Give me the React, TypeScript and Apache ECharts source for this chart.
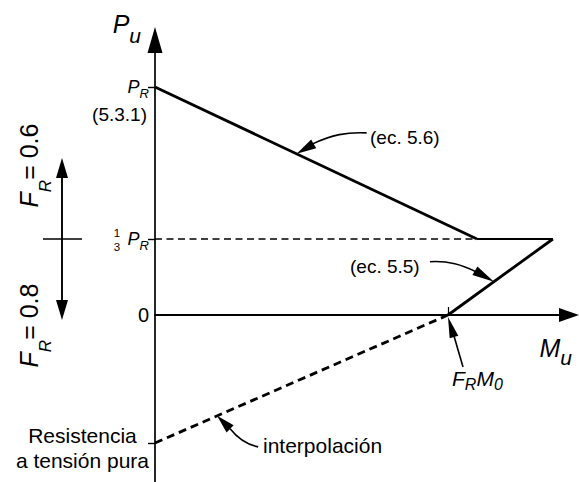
import React, { useEffect, useRef } from 'react';
import * as echarts from 'echarts';

// ---- data (diagram values, in units of FR*M0 for moment and PR/3 for axial load) ----
const P_R = 3;
const P_THIRD = 1;
const P_TENSION = -1.684;
const FR_M0 = 1;
const M_BREAK = 1.099;
const M_BALANCE = 1.358;

const upperBranch = [[0, P_R], [M_BREAK, P_THIRD]];
const capBranch = [[M_BREAK, P_THIRD], [M_BALANCE, P_THIRD]];
const lowerBranch = [[M_BALANCE, P_THIRD], [FR_M0, 0]];
const thirdLine = [[0, P_THIRD], [M_BREAK, P_THIRD]];
const interpolation = [[0, P_TENSION], [FR_M0, 0]];

const yTickValues = [P_TENSION, P_THIRD, P_R];
const yLabelValues = [P_TENSION, 0, P_THIRD, P_R];
const xTickValues = [FR_M0];

const X_MIN = 0;
const X_MAX = 1.413;
const Y_MIN = -2.197;
const Y_MAX = 3.618;

const FONT = '"Liberation Sans", Arial, Helvetica, sans-serif';
const BLACK = '#000';

function near(a: number, b: number) {
  return Math.abs(a - b) < 1e-6;
}

function arrowHead(tip: number[], base: number[], w: number) {
  const dx = tip[0] - base[0];
  const dy = tip[1] - base[1];
  const len = Math.hypot(dx, dy) || 1;
  const nx = -dy / len;
  const ny = dx / len;
  return {
    type: 'polygon',
    z: 100,
    silent: true,
    shape: {
      points: [
        [tip[0], tip[1]],
        [base[0] + (nx * w) / 2, base[1] + (ny * w) / 2],
        [base[0] - (nx * w) / 2, base[1] - (ny * w) / 2],
      ],
    },
    style: { fill: BLACK },
  };
}

function curve(s: number[], c1: number[], c2: number[], e: number[]) {
  return {
    type: 'bezierCurve',
    z: 100,
    silent: true,
    shape: { x1: s[0], y1: s[1], cpx1: c1[0], cpy1: c1[1], cpx2: c2[0], cpy2: c2[1], x2: e[0], y2: e[1] },
    style: { stroke: BLACK, lineWidth: 1.6, fill: 'none' },
  };
}

function seg(x1: number, y1: number, x2: number, y2: number, w: number) {
  return {
    type: 'line',
    z: 100,
    silent: true,
    shape: { x1, y1, x2, y2 },
    style: { stroke: BLACK, lineWidth: w },
  };
}

function txt(text: string, x: number, y: number, size: number, align = 'left', extra: any = {}) {
  return {
    type: 'text',
    z: 100,
    silent: true,
    x,
    y,
    style: {
      text,
      fill: BLACK,
      fontSize: size,
      fontFamily: FONT,
      align,
      verticalAlign: 'middle',
      ...extra,
    },
  };
}

const lineSeries = (data: number[][], width: number, type: any = 'solid') => ({
  type: 'line',
  data,
  showSymbol: false,
  symbol: 'none',
  silent: true,
  lineStyle: { color: BLACK, width, type },
  z: 5,
});

export default function App() {
  const ref = useRef<HTMLDivElement>(null);

  useEffect(() => {
    const el = ref.current as HTMLDivElement;
    const chart = echarts.init(el, null, { renderer: 'svg' });

    const option: any = {
      animation: false,
      backgroundColor: '#fff',
      grid: { left: 155, right: 10, top: 40, bottom: 0, containLabel: false, outerBoundsMode: 'none' },
      xAxis: {
        type: 'value',
        min: X_MIN,
        max: X_MAX,
        name: '{mi|M}{sub|u}',
        nameLocation: 'end',
        nameGap: 3,
        nameTextStyle: {
          align: 'right',
          verticalAlign: 'middle',
          padding: [66, 0, 0, 0],
          rich: {
            mi: { fontFamily: FONT, fontStyle: 'italic', fontSize: 25, color: BLACK },
            sub: { fontFamily: FONT, fontStyle: 'italic', fontSize: 21, color: BLACK, padding: [19, 0, 0, 0] },
          },
        },
        axisLine: {
          show: true,
          onZero: true,
          symbol: ['none', 'triangle'],
          symbolSize: [14, 20],
          lineStyle: { color: BLACK, width: 1.8 },
        },
        axisTick: { show: true, customValues: xTickValues, inside: true, length: 8, lineStyle: { color: BLACK, width: 1.2 } },
        axisLabel: { show: false },
        splitLine: { show: false },
      },
      yAxis: {
        type: 'value',
        min: Y_MIN,
        max: Y_MAX,
        name: '{pi|P}{sub|u}',
        nameLocation: 'end',
        nameGap: 16,
        nameTextStyle: {
          align: 'right',
          verticalAlign: 'middle',
          padding: [0, 14, 0, 0],
          rich: {
            pi: { fontFamily: FONT, fontStyle: 'italic', fontSize: 25, color: BLACK },
            sub: { fontFamily: FONT, fontStyle: 'italic', fontSize: 21, color: BLACK, padding: [22, 0, 0, 0] },
          },
        },
        axisLine: {
          show: true,
          onZero: false,
          symbol: ['none', 'triangle'],
          symbolSize: [15, 26],
          lineStyle: { color: BLACK, width: 1.7 },
        },
        axisTick: { show: true, customValues: yTickValues, length: 7, lineStyle: { color: BLACK, width: 1.4 } },
        axisLabel: {
          show: true,
          customValues: yLabelValues,
          margin: 6,
          color: BLACK,
          fontFamily: FONT,
          formatter: (v: number) => {
            if (near(v, P_R) || near(v, P_THIRD)) return '{pi|P}{sub|R}';
            if (near(v, 0)) return '{zero|0}';
            if (near(v, P_TENSION)) return '{e| }\n{c|Resistencia}\n{c|a tensión pura}';
            return '';
          },
          rich: {
            pi: { fontFamily: FONT, fontStyle: 'italic', fontSize: 18, color: BLACK },
            sub: { fontFamily: FONT, fontStyle: 'italic', fontSize: 13, color: BLACK, padding: [13, 0, 0, 0] },
            zero: { fontFamily: FONT, fontSize: 20, color: BLACK },
            e: { fontFamily: FONT, fontSize: 9, lineHeight: 9 },
            c: { fontFamily: FONT, fontSize: 21, lineHeight: 25, align: 'center', color: BLACK },
          },
        },
        splitLine: { show: false },
      },
      series: [
        lineSeries(upperBranch, 2.8),
        lineSeries(capBranch, 1.9),
        lineSeries(lowerBranch, 2.8),
        lineSeries(thirdLine, 1.5, [7, 4.5]),
        lineSeries(interpolation, 2.8, [8, 5]),
      ],
    };

    chart.setOption(option);

    const px = (m: number, p: number) => chart.convertToPixel({ gridIndex: 0 }, [m, p]) as number[];

    const pR = px(0, P_R);
    const p1 = px(0, P_THIRD);
    const y1 = p1[1];

    // tips of annotation arrows, on the drawn lines
    const tU = 0.44;
    const T1 = px(M_BREAK * tU, P_R + (P_THIRD - P_R) * tU);
    const tL = 0.562;
    const T2 = px(M_BALANCE + (FR_M0 - M_BALANCE) * tL, P_THIRD * (1 - tL));
    const T3o = px(FR_M0, 0);
    const T3 = [T3o[0], T3o[1] + 2];
    const tI = 0.788;
    const T4 = px(FR_M0 * (1 - tI), P_TENSION * tI);

    const add = (a: number[], dx: number, dy: number) => [a[0] + dx, a[1] + dy];

    const subRich = (big: number, small: number, pad: number) => ({
      fi: { fontFamily: FONT, fontStyle: 'italic', fontSize: big, color: BLACK },
      fs: { fontFamily: FONT, fontStyle: 'italic', fontSize: small, color: BLACK, padding: [pad, 0, 0, 0] },
      fn: { fontFamily: FONT, fontSize: big, color: BLACK },
    });

    const graphic: any[] = [
      // (5.3.1) under P_R
      txt('(5.3.1)', 147, pR[1] + 28, 19, 'right'),
      // fraction 1/3 before P_R
      txt('1', 117, y1 - 6, 11.5, 'center'),
      txt('3', 117, y1 + 8, 11.5, 'center'),
      // F_R labels (rotated)
      {
        type: 'text',
        z: 100,
        silent: true,
        x: 29,
        y: y1 - 73.5,
        rotation: Math.PI / 2,
        style: { text: '{fi|F}{fs|R}{fn|= 0.6}', rich: subRich(25, 17, 32), align: 'center', verticalAlign: 'middle' },
      },
      {
        type: 'text',
        z: 100,
        silent: true,
        x: 29,
        y: y1 + 86.5,
        rotation: Math.PI / 2,
        style: { text: '{fi|F}{fs|R}{fn|= 0.8}', rich: subRich(25, 17, 32), align: 'center', verticalAlign: 'middle' },
      },
      // double arrow and cross
      seg(62, y1 - 62, 62, y1 + 62, 1.9),
      arrowHead([62, y1 - 81], [62, y1 - 61], 12),
      arrowHead([62, y1 + 81], [62, y1 + 61], 12),
      seg(43, y1, 82, y1, 1.6),

      // (ec. 5.6)
      txt('(ec. 5.6)', 370, 137, 19),
      curve(add(T1, 70, -21), add(T1, 50, -22), add(T1, 35, -19), add(T1, 16, -10)),
      arrowHead(T1, add(T1, 17, -10), 10),

      // (ec. 5.5)
      txt('(ec. 5.5)', 350, 266, 19),
      curve(add(T2, -64, -20), add(T2, -45, -21), add(T2, -32, -17), add(T2, -18, -10)),
      arrowHead(T2, add(T2, -19, -11), 10),

      // F_R M_0
      {
        type: 'text',
        z: 100,
        silent: true,
        x: 452,
        y: 378,
        style: { text: '{fi|F}{fs|R}{fi|M}{fs|0}', rich: subRich(21, 16, 13), align: 'left', verticalAlign: 'middle' },
      },
      seg(T3[0] + 15, T3[1] + 50, T3[0] + 6, T3[1] + 19, 1.6),
      arrowHead(T3, add(T3, 6, 20), 9),

      // interpolación
      txt('interpolación', 263, 445, 21),
      curve(add(T4, 41, 31), add(T4, 30, 29), add(T4, 21, 23), add(T4, 13, 13)),
      arrowHead(T4, add(T4, 13, 13), 10),
    ];

    chart.setOption({ graphic });

    return () => {
      chart.dispose();
    };
  }, []);

  return (
    <div
      ref={ref}
      style={{ position: 'fixed', left: 0, top: 0, width: 579, height: 482, background: '#fff' }}
    />
  );
}
